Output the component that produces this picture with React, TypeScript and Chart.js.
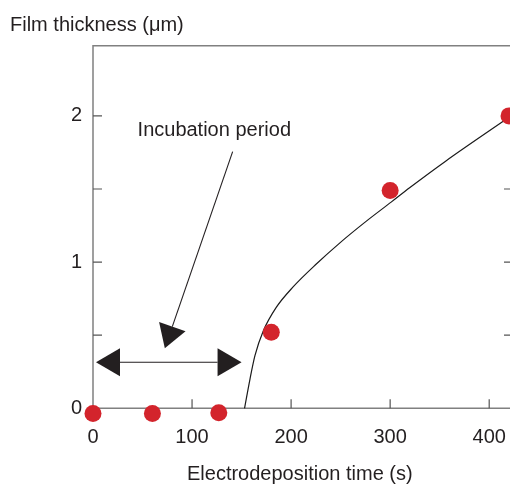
import React, { useEffect, useRef } from "react";
import { Chart, registerables } from "chart.js";

Chart.register(...registerables);

// Measured points (time in s, thickness in µm)
const pointTimes = [0, 60, 127, 180, 300, 420];
const pointThickness = [-0.035, -0.035, -0.03, 0.52, 1.49, 2.0];

// Fitted growth curve
const curveTimes = [153, 158.5, 163.5, 172, 185, 202, 226, 249, 276, 301, 320, 356, 420];
const curveThickness = [0, 0.2, 0.36, 0.53, 0.69, 0.83, 0.99, 1.13, 1.28, 1.41, 1.51, 1.69, 1.99];

// Axis ticks
const xTickValues = [0, 100, 200, 300, 400];
const yLabelValues = [0, 1, 2];
const yMinorTicks = [0.5, 1, 1.5, 2];

// Annotation (data coordinates)
const annotationText = "Incubation period";
const annotationTextPos = [45, 1.865];
const pointerFrom = [141, 1.756];
const pointerTo = [72.5, 0.41];
const spanY = 0.315;
const spanX = [3, 150];

const xTitle = "Electrodeposition time (s)";
const yTitle = "Film thickness (\u03bcm)";

const FONT = "'Liberation Sans', Arial, Helvetica, sans-serif";
const RED = "rgb(211,36,44)";

function arrowHead(ctx: CanvasRenderingContext2D, fx: number, fy: number, tx: number, ty: number, len: number, half: number) {
  const a = Math.atan2(ty - fy, tx - fx);
  const bx = tx - len * Math.cos(a);
  const by = ty - len * Math.sin(a);
  const px = -Math.sin(a) * half;
  const py = Math.cos(a) * half;
  ctx.beginPath();
  ctx.moveTo(tx, ty);
  ctx.lineTo(bx + px, by + py);
  ctx.lineTo(bx - px, by - py);
  ctx.closePath();
  ctx.fill();
  return [bx, by];
}

const framePlugin = {
  id: "frame",
  beforeDatasetsDraw(chart: any) {
    const { ctx, chartArea, scales } = chart;
    const { left, right, top, bottom } = chartArea;
    ctx.save();
    ctx.strokeStyle = "#808080";
    ctx.lineWidth = 1.5;
    ctx.beginPath();
    ctx.moveTo(left, bottom);
    ctx.lineTo(left, top);
    ctx.lineTo(right, top);
    ctx.moveTo(left, bottom);
    ctx.lineTo(right, bottom);
    ctx.stroke();
    ctx.strokeStyle = "#555";
    ctx.lineWidth = 1.2;
    ctx.beginPath();
    for (const v of xTickValues) {
      if (v === 0) continue;
      const x = scales.x.getPixelForValue(v);
      ctx.moveTo(x, bottom);
      ctx.lineTo(x, bottom - 9);
    }
    for (const v of yMinorTicks) {
      const y = scales.y.getPixelForValue(v);
      ctx.moveTo(left, y);
      ctx.lineTo(left + 9, y);
      ctx.moveTo(right, y);
      ctx.lineTo(right - 6, y);
    }
    ctx.stroke();
    ctx.restore();
  },
  afterDraw(chart: any) {
    const { ctx, scales } = chart;
    const X = (v: number) => scales.x.getPixelForValue(v);
    const Y = (v: number) => scales.y.getPixelForValue(v);
    ctx.save();
    ctx.fillStyle = "#231f20";
    ctx.strokeStyle = "#231f20";
    ctx.font = `20px ${FONT}`;
    ctx.textBaseline = "alphabetic";
    ctx.textAlign = "left";
    ctx.fillText(yTitle, 10, 31);
    ctx.fillText(xTitle, 187, 480);
    ctx.fillText(annotationText, X(annotationTextPos[0]), Y(annotationTextPos[1]));

    // pointer arrow
    const fx = X(pointerFrom[0]), fy = Y(pointerFrom[1]);
    const tx = X(pointerTo[0]), ty = Y(pointerTo[1]);
    const [bx, by] = arrowHead(ctx, fx, fy, tx, ty, 23, 14);
    ctx.lineWidth = 1.1;
    ctx.beginPath();
    ctx.moveTo(fx, fy);
    ctx.lineTo(bx, by);
    ctx.stroke();

    // double arrow
    const y = Y(spanY);
    const lx = X(spanX[0]), rx = X(spanX[1]);
    const [lbx] = arrowHead(ctx, rx, y, lx, y, 24, 14);
    const [rbx] = arrowHead(ctx, lx, y, rx, y, 24, 14);
    ctx.beginPath();
    ctx.moveTo(lbx, y);
    ctx.lineTo(rbx, y);
    ctx.stroke();
    ctx.restore();
  },
};

export default function App() {
  const ref = useRef<HTMLCanvasElement | null>(null);
  useEffect(() => {
    if (!ref.current) return;
    const chart = new Chart(ref.current, {
      type: "scatter",
      data: {
        datasets: [
          {
            label: "Measured",
            data: pointTimes.map((t, i) => ({ x: t, y: pointThickness[i] })),
            pointRadius: 8.5,
            pointBackgroundColor: RED,
            pointBorderWidth: 0,
            clip: false,
          } as any,
          {
            label: "Fit",
            data: curveTimes.map((t, i) => ({ x: t, y: curveThickness[i] })),
            showLine: true,
            pointRadius: 0,
            borderColor: "#1a1a1a",
            borderWidth: 1.2,
            cubicInterpolationMode: "monotone",
            clip: false,
          } as any,
        ],
      },
      options: {
        responsive: false,
        animation: false,
        events: [],
        layout: { autoPadding: false, padding: { top: 45.7, left: 0, right: 0, bottom: 0 } },
        plugins: { legend: { display: false }, tooltip: { enabled: false }, title: { display: false } },
        scales: {
          x: {
            type: "linear",
            min: 0,
            max: 421,
            grid: { display: false, drawTicks: false },
            border: { display: false },
            ticks: { font: { size: 20, family: FONT }, color: "#231f20", padding: 17, maxRotation: 0 },
            afterBuildTicks: (s: any) => {
              s.ticks = xTickValues.map((v) => ({ value: v }));
            },
            afterFit: (s: any) => {
              s.height = 75.7;
              s.paddingLeft = 0;
              s.paddingRight = 0;
            },
          },
          y: {
            type: "linear",
            min: 0,
            max: 2.48,
            grid: { display: false, drawTicks: false },
            border: { display: false },
            ticks: { font: { size: 20, family: FONT }, color: "#231f20", padding: 11 },
            afterBuildTicks: (s: any) => {
              s.ticks = yLabelValues.map((v) => ({ value: v }));
            },
            afterFit: (s: any) => {
              s.width = 93;
              s.paddingTop = 0;
              s.paddingBottom = 0;
            },
          },
        },
      },
      plugins: [framePlugin],
    });
    return () => chart.destroy();
  }, []);
  return (
    <div style={{ position: "absolute", left: 0, top: 0, width: 510, height: 484 }}>
      <canvas ref={ref} width={510} height={484} style={{ display: "block" }} />
    </div>
  );
}
